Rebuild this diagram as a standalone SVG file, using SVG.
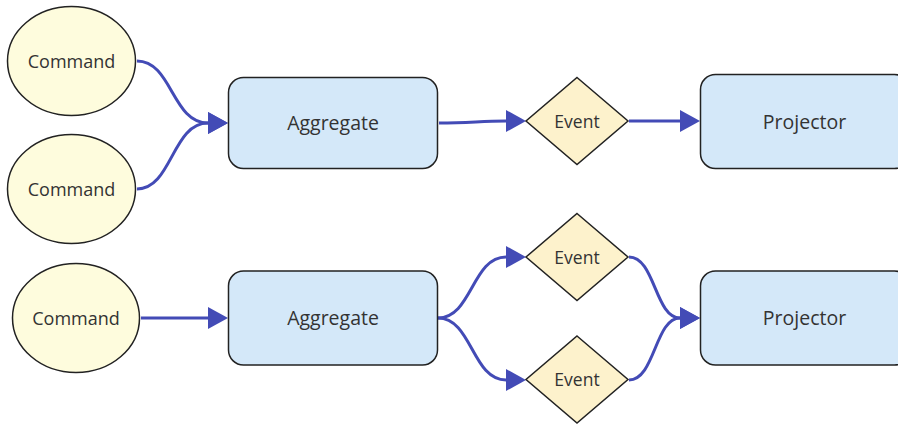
<svg xmlns="http://www.w3.org/2000/svg" width="898" height="427" viewBox="0 0 898 427">
<defs>
<style>
.cmd{fill:#fefcdd;stroke:#222;stroke-width:1.5}
.agg{fill:#d4e8f9;stroke:#222;stroke-width:1.5}
.evt{fill:#fdf2cc;stroke:#222;stroke-width:1.5}
.lbl{font-family:"Open Sans","Noto Sans",sans-serif;font-size:18px;fill:#333;text-anchor:middle;dominant-baseline:central}
.blbl{font-family:"Open Sans","Noto Sans",sans-serif;font-size:19.5px;fill:#333;text-anchor:middle;dominant-baseline:central}
.elbl{font-family:"Open Sans","Noto Sans",sans-serif;font-size:17.5px;fill:#333;text-anchor:middle;dominant-baseline:central}
.edge{fill:none;stroke:#434bb6;stroke-width:3;marker-end:url(#arr)}
</style>
<marker id="arr" markerUnits="userSpaceOnUse" markerWidth="21" markerHeight="24" refX="0" refY="11" orient="auto" overflow="visible">
<path d="M0,0 L20,11 L0,22 Z" fill="#434bb6"/>
</marker>
</defs>
<rect width="898" height="427" fill="#fff"/>
<g id="connectors">
<path class="edge" d="M137,61 C172,61 172,123 208,123"/>
<path class="edge" d="M137,189 C172,189 172,123 208,123"/>
<path class="edge" d="M439,123 C470,123 480,121 506,121"/>
<path class="edge" d="M629,121 L680,121"/>
<path class="edge" d="M141,318 L208,318"/>
<path class="edge" d="M438,318 C472,318 472,257 506,257"/>
<path class="edge" d="M438,318 C472,318 472,380 506,380"/>
<path class="edge" d="M629,257 C655,257 655,318 680,318"/>
<path class="edge" d="M629,380 C655,380 655,318 680,318"/>
</g>
<g id="cmd1"><ellipse class="cmd" cx="71.5" cy="61" rx="64" ry="54.5"/><text class="lbl" x="71.5" y="61">Command</text></g>
<g id="cmd2"><ellipse class="cmd" cx="71.5" cy="189" rx="64" ry="54.5"/><text class="lbl" x="71.5" y="189">Command</text></g>
<g id="agg1"><rect class="agg" x="228.5" y="77.5" width="209" height="91" rx="15"/><text class="blbl" x="333" y="122.5">Aggregate</text></g>
<g id="evt1"><polygon class="evt" points="577,77.5 628,121 577,164.5 526,121"/><text class="elbl" x="577" y="121">Event</text></g>
<g id="proj1"><rect class="agg" x="700.5" y="74.5" width="209" height="94" rx="15"/><text class="blbl" x="804.5" y="121">Projector</text></g>
<g id="cmd3"><ellipse class="cmd" cx="76" cy="318" rx="63.5" ry="54.5"/><text class="lbl" x="76" y="317.5">Command</text></g>
<g id="agg2"><rect class="agg" x="228.5" y="271" width="209" height="94" rx="15"/><text class="blbl" x="333" y="317.5">Aggregate</text></g>
<g id="evt2"><polygon class="evt" points="577,213.5 628,257 577,300.5 526,257"/><text class="elbl" x="577" y="256.5">Event</text></g>
<g id="evt3"><polygon class="evt" points="577,336 628,379.5 577,423 526,379.5"/><text class="elbl" x="577" y="379">Event</text></g>
<g id="proj2"><rect class="agg" x="700.5" y="271" width="209" height="94" rx="15"/><text class="blbl" x="804.5" y="317.5">Projector</text></g>
</svg>
